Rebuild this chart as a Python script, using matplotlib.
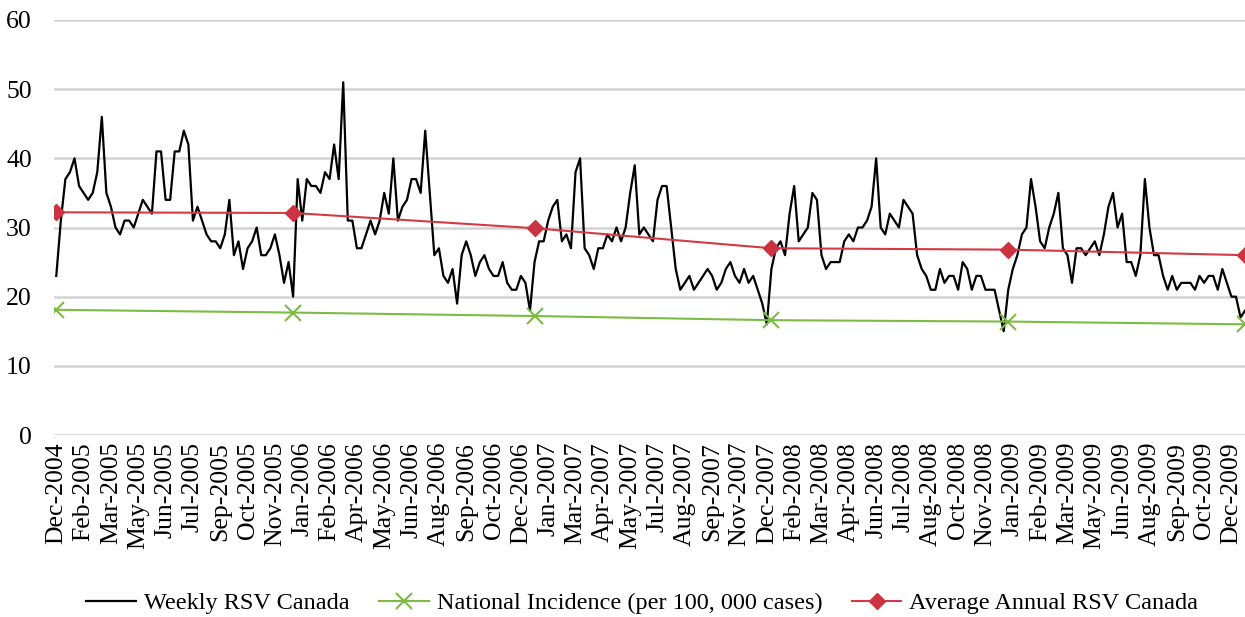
import matplotlib
matplotlib.use('Agg')
import matplotlib.pyplot as plt
import numpy as np

plt.rcParams['font.family'] = ['Liberation Serif', 'DejaVu Serif']

# weekly RSV counts, Dec-2004 .. Dec-2009
weekly_rsv = [
    23, 31, 37, 38, 40, 36, 35, 34, 35, 38, 46, 35, 33, 30, 29, 31, 31, 30, 32, 34,
    33, 32, 41, 41, 34, 34, 41, 41, 44, 42, 31, 33, 31, 29, 28, 28, 27, 29, 34, 26,
    28, 24, 27, 28, 30, 26, 26, 27, 29, 26, 22, 25, 20, 37, 31, 37, 36, 36, 35, 38,
    37, 42, 37, 51, 31, 31, 27, 27, 29, 31, 29, 31, 35, 32, 40, 31, 33, 34, 37, 37,
    35, 44, 35, 26, 27, 23, 22, 24, 19, 26, 28, 26, 23, 25, 26, 24, 23, 23, 25, 22,
    21, 21, 23, 22, 18, 25, 28, 28, 31, 33, 34, 28, 29, 27, 38, 40, 27, 26, 24, 27,
    27, 29, 28, 30, 28, 30, 35, 39, 29, 30, 29, 28, 34, 36, 36, 30, 24, 21, 22, 23,
    21, 22, 23, 24, 23, 21, 22, 24, 25, 23, 22, 24, 22, 23, 21, 19, 16, 24, 27, 28,
    26, 32, 36, 28, 29, 30, 35, 34, 26, 24, 25, 25, 25, 28, 29, 28, 30, 30, 31, 33,
    40, 30, 29, 32, 31, 30, 34, 33, 32, 26, 24, 23, 21, 21, 24, 22, 23, 23, 21, 25,
    24, 21, 23, 23, 21, 21, 21, 18, 15, 21, 24, 26, 29, 30, 37, 33, 28, 27, 30, 32,
    35, 27, 26, 22, 27, 27, 26, 27, 28, 26, 29, 33, 35, 30, 32, 25, 25, 23, 26, 37,
    30, 26, 26, 23, 21, 23, 21, 22, 22, 22, 21, 23, 22, 23, 23, 21, 24, 22, 20, 20,
    17, 18,
]

# annual series, plotted at the start of each season
annual_weeks = [0, 52, 105, 157, 209, 261]
national_incidence = [18.1, 17.7, 17.2, 16.6, 16.4, 16.0]
avg_annual_rsv = [32.2, 32.1, 29.9, 27.0, 26.8, 26.0]

tick_labels = [
    'Dec-2004', 'Feb-2005', 'Mar-2005', 'May-2005', 'Jun-2005', 'Jul-2005',
    'Sep-2005', 'Oct-2005', 'Nov-2005', 'Jan-2006', 'Feb-2006', 'Apr-2006',
    'May-2006', 'Jun-2006', 'Aug-2006', 'Sep-2006', 'Oct-2006', 'Dec-2006',
    'Jan-2007', 'Mar-2007', 'Apr-2007', 'May-2007', 'Jul-2007', 'Aug-2007',
    'Sep-2007', 'Nov-2007', 'Dec-2007', 'Feb-2008', 'Mar-2008', 'Apr-2008',
    'Jun-2008', 'Jul-2008', 'Aug-2008', 'Oct-2008', 'Nov-2008', 'Jan-2009',
    'Feb-2009', 'Mar-2009', 'May-2009', 'Jun-2009', 'Aug-2009', 'Sep-2009',
    'Oct-2009', 'Dec-2009',
]

weeks = np.arange(len(weekly_rsv))

fig = plt.figure(figsize=(12.45, 6.17), dpi=100)
ax = fig.add_axes([54 / 1245, 1 - 435 / 617, (1246 - 54) / 1245, 415 / 617])

ax.plot(weeks, weekly_rsv, color='black', lw=1.6, label='Weekly RSV Canada', zorder=3)
ax.plot(annual_weeks, national_incidence, color='#7dbb42', lw=1.5, marker='x',
        markersize=11, markeredgewidth=1.5, label='National Incidence (per 100, 000 cases)',
        zorder=4)
ax.plot(annual_weeks, avg_annual_rsv, color='#d43a45', lw=1.5, marker='D',
        markersize=8, markerfacecolor='#cc3340', markeredgecolor='#cc3340',
        label='Average Annual RSV Canada', zorder=4)

ax.set_xlim(-0.5, 261.2)
ax.set_ylim(0, 60)
ax.set_yticks(range(0, 61, 10))
ax.set_xticks(np.arange(0, len(weekly_rsv), 6)[:len(tick_labels)])
ax.set_xticklabels(tick_labels, rotation=90)
ax.tick_params(axis='both', length=0, labelsize=18.5)
ax.tick_params(axis='y', pad=16)
ax.tick_params(axis='x', pad=5)
ax.grid(axis='y', color='#d4d4d4', lw=1.8)
ax.set_axisbelow(True)
for s in ax.spines.values():
    s.set_visible(False)

fig.legend(loc='lower center', bbox_to_anchor=(0.516, -0.031), ncol=3, frameon=False,
           fontsize=17.5, handlelength=2.05, columnspacing=1.2, handletextpad=0.33)

fig.savefig('out.png', dpi=100)
